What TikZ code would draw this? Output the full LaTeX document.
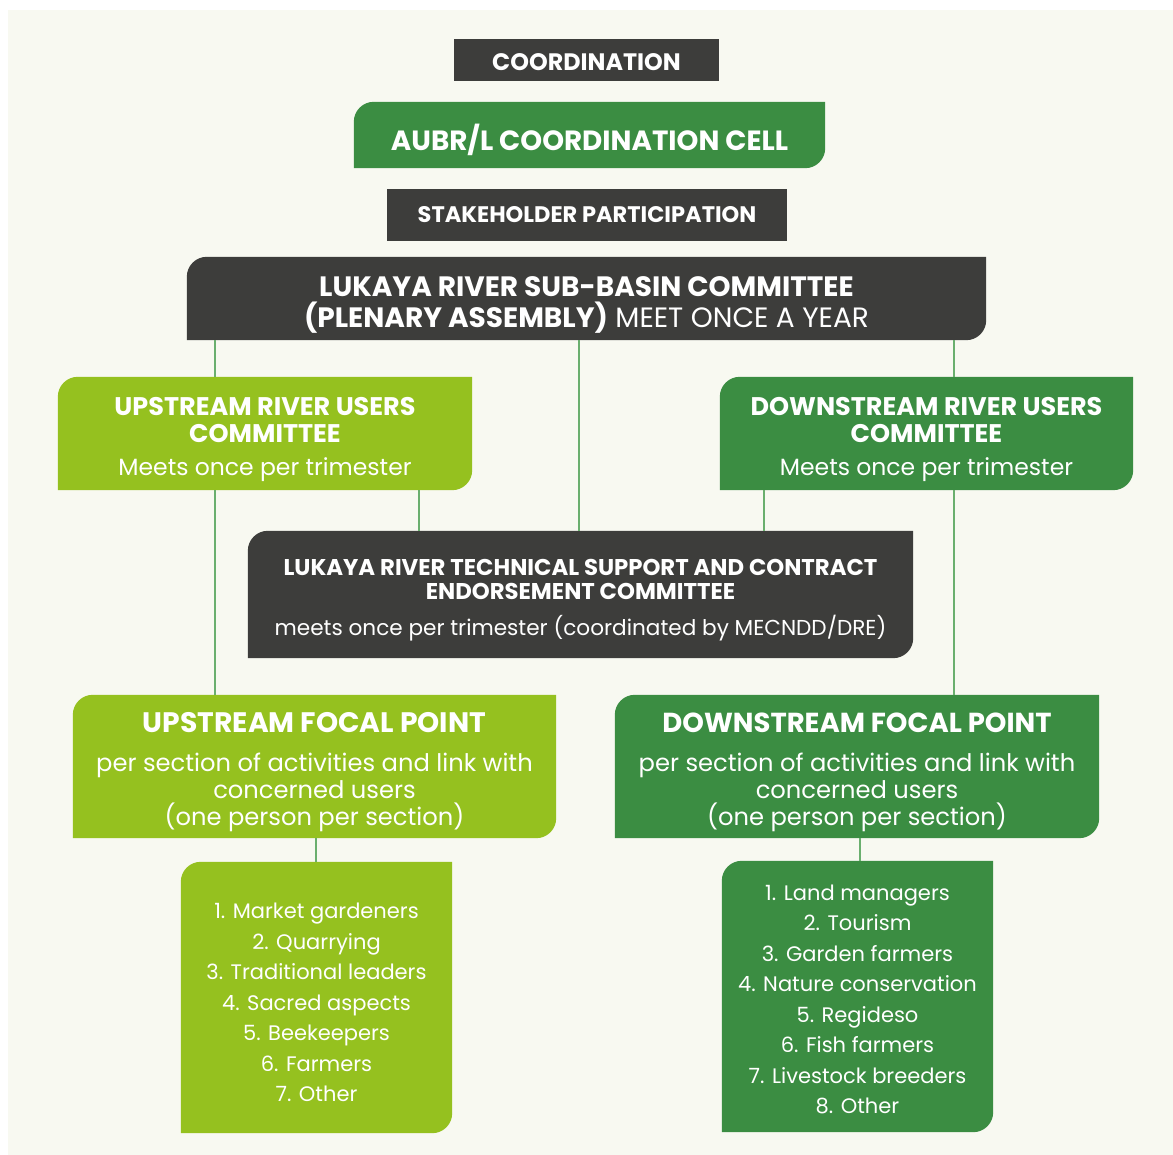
\documentclass[tikz,border=0pt]{standalone}
\usepackage{fontspec}
\setmainfont{Poppins}
\usetikzlibrary{backgrounds}

\definecolor{bgcream}{HTML}{F8F9F1}
\definecolor{darkgrey}{HTML}{3D3D3B}
\definecolor{riverg}{HTML}{3B8D42}
\definecolor{limeg}{HTML}{95C11F}
\definecolor{linkg}{HTML}{6AAF6E}

\tikzstyle{frame}=[inner sep=0pt]
\tikzstyle{label}=[text=white,align=center,inner sep=0pt]
\tikzstyle{link}=[draw=linkg,line width=1.3pt]

% fill behind a frame, rounded top left and bottom right
\newcommand{\leafbox}[2]{%
  \fill[#2] (#1.north east) -- ([yshift=20pt]#1.south east)
    arc[start angle=0,end angle=-90,radius=20pt] -- (#1.south west)
    -- ([yshift=-20pt]#1.north west)
    arc[start angle=180,end angle=90,radius=20pt] -- cycle;}

\begin{document}
\begin{tikzpicture}[x=1pt,y=1pt]
    \useasboundingbox (0,0) rectangle (1173,-1155);

    % frames
    \node (coord)[frame,minimum width=265pt,minimum height=42pt] at (586.5,-60) {};
    \node (cell)[frame,minimum width=471pt,minimum height=66pt] at (589.5,-135) {};
    \node (stake)[frame,minimum width=400pt,minimum height=52pt] at (587,-215) {};
    \node (sub)[frame,minimum width=799pt,minimum height=83pt] at (586.5,-298.5) {};
    \node (upu)[frame,minimum width=414pt,minimum height=113pt] at (265,-433.5) {};
    \node (dnu)[frame,minimum width=413pt,minimum height=113pt] at (926.5,-433.5) {};
    \node (tech)[frame,minimum width=665pt,minimum height=127pt] at (580.5,-594.5) {};
    \node (upf)[frame,minimum width=483pt,minimum height=143pt] at (314.5,-766.5) {};
    \node (dnf)[frame,minimum width=484pt,minimum height=143pt] at (857,-766.5) {};
    \node (upl)[frame,minimum width=271pt,minimum height=271pt] at (316.5,-997.5) {};
    \node (dnl)[frame,minimum width=271pt,minimum height=271pt] at (857.5,-996.5) {};

    % texts
    \node (coordT)[label,font=\bfseries\fontsize{23.8}{26}\selectfont] at ([yshift=-2pt]coord.center) {COORDINATION};
    \node (cellT)[label,font=\bfseries\fontsize{27.8}{32}\selectfont] at ([yshift=-5pt]cell.center) {AUBR/L COORDINATION CELL};
    \node (stakeT)[label,font=\bfseries\fontsize{22.5}{25}\selectfont] at (stake.center) {STAKEHOLDER PARTICIPATION};
    \node (subT)[label,font=\fontsize{28}{31}\selectfont] at ([yshift=-6pt]sub.center)
        {\bfseries LUKAYA RIVER SUB-BASIN COMMITTEE\\ {\bfseries (PLENARY ASSEMBLY)} MEET ONCE A YEAR};
    \node (upuT)[label,font=\fontsize{23.5}{27}\selectfont] at ([yshift=-6pt]upu.center)
        {{\bfseries\fontsize{25.5}{27}\selectfont UPSTREAM RIVER USERS}\\ {\bfseries\fontsize{25.5}{27}\selectfont COMMITTEE}\\[6pt] Meets once per trimester};
    \node (dnuT)[label,font=\fontsize{23.5}{27}\selectfont] at ([yshift=-6pt]dnu.center)
        {{\bfseries\fontsize{25.5}{27}\selectfont DOWNSTREAM RIVER USERS}\\ {\bfseries\fontsize{25.5}{27}\selectfont COMMITTEE}\\[6pt] Meets once per trimester};
    \node (techT)[label,font=\fontsize{21.6}{24}\selectfont] at ([yshift=-6pt]tech.center)
        {{\bfseries\fontsize{22.8}{24}\selectfont LUKAYA RIVER TECHNICAL SUPPORT AND CONTRACT}\\ {\bfseries\fontsize{22.8}{24}\selectfont ENDORSEMENT COMMITTEE}\\[12pt] meets once per trimester (coordinated by MECNDD/DRE)};
    \node (upfT)[label,font=\fontsize{24.2}{27}\selectfont] at ([yshift=-6pt]upf.center)
        {{\bfseries\fontsize{28.2}{27}\selectfont UPSTREAM FOCAL POINT}\\[12pt] per section of activities and link with\\ concerned users\\ (one person per section)};
    \node (dnfT)[label,font=\fontsize{24.2}{27}\selectfont] at ([yshift=-6pt]dnf.center)
        {{\bfseries\fontsize{27.5}{27}\selectfont DOWNSTREAM FOCAL POINT}\\[12pt] per section of activities and link with\\ concerned users\\ (one person per section)};
    \node (uplT)[label,font=\fontsize{21}{30.5}\selectfont] at ([yshift=-5pt]upl.center)
        {1. Market gardeners\\ 2. Quarrying\\ 3. Traditional leaders\\ 4. Sacred aspects\\ 5. Beekeepers\\ 6. Farmers\\ 7. Other};
    \node (dnlT)[label,font=\fontsize{21}{30.5}\selectfont] at ([yshift=-3pt]dnl.center)
        {1. Land managers\\ 2. Tourism\\ 3. Garden farmers\\ 4. Nature conservation\\ 5. Regideso\\ 6. Fish farmers\\ 7. Livestock breeders\\ 8. Other};

    \coordinate (colA) at (215,0);
    \coordinate (colB) at (419,0);
    \coordinate (colC) at (579,0);
    \coordinate (colD) at (764,0);
    \coordinate (colE) at (954,0);
    \coordinate (colF) at (316,0);
    \coordinate (colG) at (860,0);

    \begin{scope}[on background layer]
        \fill[white] (0,0) rectangle (1173,-1155);
        \fill[bgcream] (8,-10) rectangle (1173,-1155);
        \fill[darkgrey] (coord.south west) rectangle (coord.north east);
        \fill[darkgrey] (stake.south west) rectangle (stake.north east);
        \leafbox{cell}{riverg}
        \leafbox{sub}{darkgrey}
        \leafbox{upu}{limeg}
        \leafbox{dnu}{riverg}
        \leafbox{tech}{darkgrey}
        \leafbox{upf}{limeg}
        \leafbox{dnf}{riverg}
        \leafbox{upl}{limeg}
        \leafbox{dnl}{riverg}
        \draw[link] (sub.south -| colA) -- (upu.north -| colA);
        \draw[link] (upu.south -| colA) -- (upf.north -| colA);
        \draw[link] (sub.south -| colC) -- (tech.north -| colC);
        \draw[link] (sub.south -| colE) -- (dnu.north -| colE);
        \draw[link] (dnu.south -| colE) -- (dnf.north -| colE);
        \draw[link] (upu.south -| colB) -- (tech.north -| colB);
        \draw[link] (dnu.south -| colD) -- (tech.north -| colD);
        \draw[link] (upf.south -| colF) -- (upl.north -| colF);
        \draw[link] (dnf.south -| colG) -- (dnl.north -| colG);
    \end{scope}
\end{tikzpicture}
\end{document}
